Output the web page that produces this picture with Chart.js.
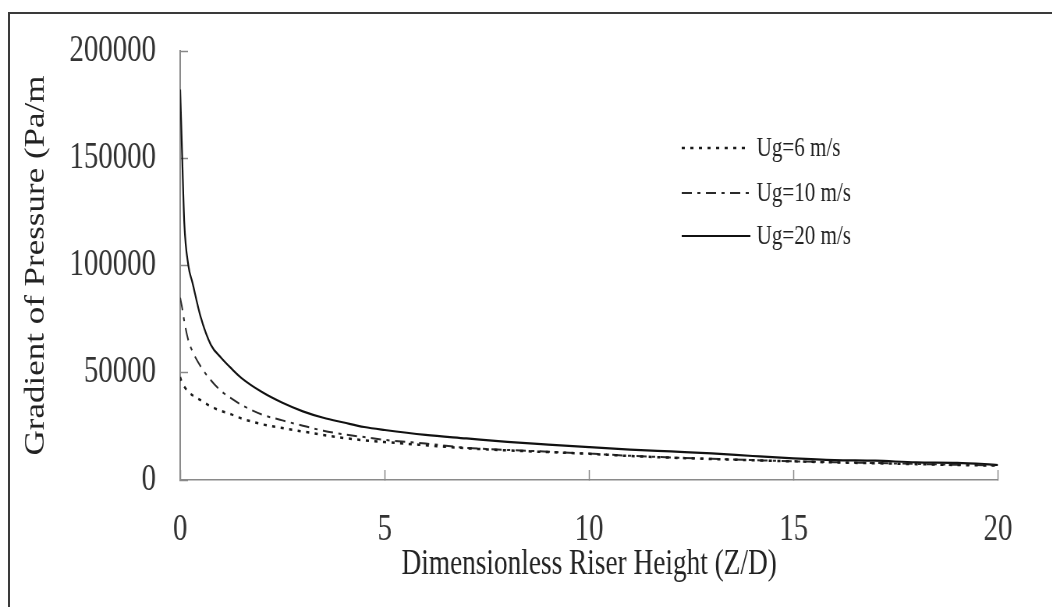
<!DOCTYPE html>
<html>
<head>
<meta charset="utf-8">
<script src="https://cdn.jsdelivr.net/npm/chart.js@4"></script>
<style>
  html, body { margin: 0; padding: 0; background: #fff; overflow: hidden; }
  #frame {
    position: absolute; left: 8px; top: 12px; width: 1100px; height: 700px;
    border-top: 2px solid #3a3a3a; border-left: 2px solid #3a3a3a;
  }
  /* the original uses a narrow serif face, so the whole canvas is squeezed horizontally */
  #wrap {
    position: absolute; left: 0; top: 0; width: 1349px; height: 607px;
    transform: scaleX(0.78); transform-origin: 0 0;
  }
</style>
</head>
<body>
<div id="frame"></div>
<div id="wrap"><canvas id="chart"></canvas></div>
<script>
// ===== DATA =====
const heights = [0, 0.05, 0.1, 0.2, 0.3, 0.5, 0.75, 1, 1.25, 1.5, 2, 2.5, 3, 3.5, 4, 4.5, 5,
                 6, 7, 8, 9, 10, 11, 12, 13, 14, 15, 16, 17, 18, 19, 20];
const ug6 = [48000, 45000, 43500, 41000, 39500, 37200, 34300, 32200, 30600, 28700, 26000, 24200,
             22600, 21000, 19600, 18500, 17700, 16200, 14800, 13800, 13000, 12200, 11200, 10400,
             9800, 9200, 8700, 8200, 7800, 7400, 7000, 6700];
const ug10 = [85000, 80000, 74000, 65000, 60000, 53000, 46500, 41500, 38000, 35000, 30500, 27800,
              25300, 23000, 21300, 20000, 18700, 17000, 15000, 14000, 13200, 12300, 11300, 10500,
              9900, 9300, 8700, 8300, 7900, 7500, 7100, 6800];
const ug20 = [182000, 150000, 120000, 100000, 92000, 76000, 63000, 57000, 52000, 47500, 41000, 36000,
              32000, 29000, 26800, 24700, 23300, 21000, 19400, 17800, 16500, 15300, 14200, 13300,
              12400, 11200, 10100, 9300, 9000, 8250, 8000, 7000];
const seriesLabels = ['Ug=6 m/s', 'Ug=10 m/s', 'Ug=20 m/s'];
const xTicks = [0, 5, 10, 15, 20];
const yTicks = [0, 50000, 100000, 150000, 200000];

const FONT = '"Liberation Serif", "Times New Roman", serif';

function points(values) {
    return heights.map((h, i) => ({ x: h, y: values[i] }));
}

// ===== LEGEND INSIDE THE PLOT =====
const insideLegend = {
    id: 'insideLegend',
    afterDatasetsDraw(chart) {
        const ctx = chart.ctx;
        const rows = [148, 193, 236];
        ctx.save();
        chart.data.datasets.forEach((ds, i) => {
            const y = rows[i];
            ctx.beginPath();
            ctx.setLineDash(ds.borderDash || []);
            ctx.lineWidth = ds.borderWidth;
            ctx.strokeStyle = ds.borderColor;
            ctx.moveTo(874, y);
            ctx.lineTo(962, y);
            ctx.stroke();
            ctx.setLineDash([]);
            ctx.fillStyle = '#222';
            ctx.font = '27px ' + FONT;
            ctx.textBaseline = 'middle';
            ctx.fillText(ds.label, 970, y + 1);
        });
        ctx.restore();
    }
};

new Chart(document.getElementById('chart'), {
    type: 'line',
    data: {
        datasets: [
            { label: seriesLabels[0], data: points(ug6), borderColor: '#1a1a1a', borderWidth: 2.5, borderDash: [4, 7] },
            { label: seriesLabels[1], data: points(ug10), borderColor: '#2a2a2a', borderWidth: 2, borderDash: [13, 7, 4, 7] },
            { label: seriesLabels[2], data: points(ug20), borderColor: '#111', borderWidth: 2.2 }
        ]
    },
    options: {
        responsive: true,
        maintainAspectRatio: false,
        animation: false,
        layout: { padding: { left: 0, top: 51, right: 69.5, bottom: 0 } },
        elements: {
            point: { radius: 0 },
            line: { cubicInterpolationMode: 'monotone', fill: false }
        },
        plugins: {
            legend: { display: false },
            tooltip: { enabled: false }
        },
        scales: {
            x: {
                type: 'linear',
                min: 0,
                max: 20,
                afterBuildTicks: s => { s.ticks = xTicks.map(v => ({ value: v })); },
                afterFit: s => { s.height = 127; },
                ticks: { color: '#333', font: { family: FONT, size: 37 }, padding: 38, maxRotation: 0 },
                grid: { drawOnChartArea: false, drawTicks: true, tickLength: -10, color: '#888', tickWidth: 1.5 },
                border: { color: '#8a8a8a', width: 1.5 },
                title: {
                    display: true,
                    text: 'Dimensionless Riser Height (Z/D)',
                    color: '#222',
                    font: { family: FONT, size: 35 },
                    padding: { top: 0, bottom: 21 }
                }
            },
            y: {
                min: 0,
                max: 200000,
                afterBuildTicks: s => { s.ticks = yTicks.map(v => ({ value: v })); },
                // fixed width, and no extra room above the top label
                afterFit: s => { s.width = 231; s.paddingTop = 0; s.paddingBottom = 0; },
                ticks: { color: '#333', font: { family: FONT, size: 37 }, padding: 41, callback: v => String(v) },
                grid: { drawOnChartArea: false, drawTicks: true, tickLength: -10, color: '#888', tickWidth: 1.5 },
                border: { color: '#8a8a8a', width: 2 },
                title: {
                    display: true,
                    text: 'Gradient of Pressure (Pa/m',
                    color: '#222',
                    font: { family: FONT, size: 35 },
                    padding: { top: 26, bottom: 0 }
                }
            }
        }
    },
    plugins: [insideLegend]
});
</script>
</body>
</html>
